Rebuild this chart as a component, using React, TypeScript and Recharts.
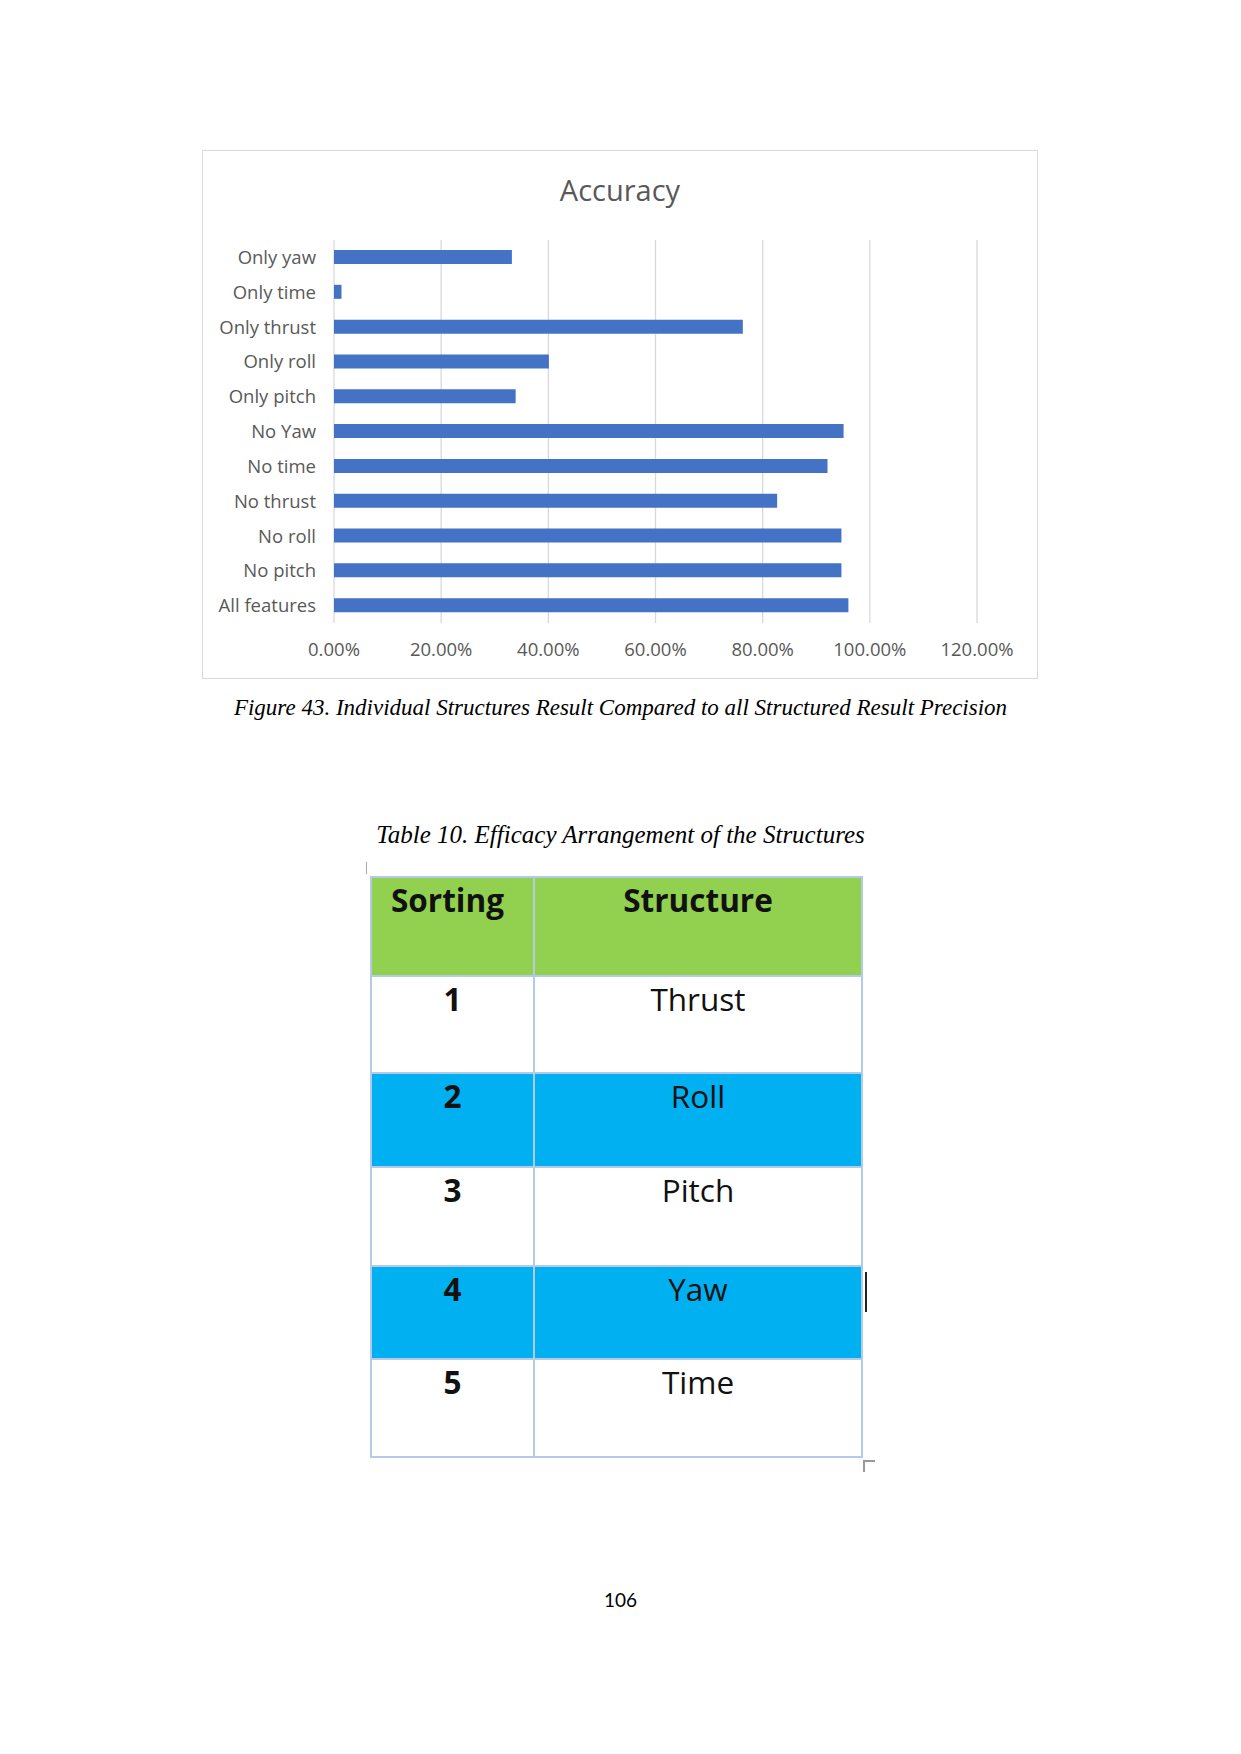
import { BarChart, Bar, XAxis, YAxis, CartesianGrid } from "recharts";

const categories = [
  "Only yaw",
  "Only time",
  "Only thrust",
  "Only roll",
  "Only pitch",
  "No Yaw",
  "No time",
  "No thrust",
  "No roll",
  "No pitch",
  "All features",
];

const accuracy = [33.2, 1.4, 76.3, 40.1, 33.9, 95.1, 92.1, 82.7, 94.7, 94.7, 96.0];

const xTicks = [0, 20, 40, 60, 80, 100, 120];

const tableHeaders = ["Sorting", "Structure"];
const sortingRanks = ["1", "2", "3", "4", "5"];
const structures = ["Thrust", "Roll", "Pitch", "Yaw", "Time"];

const data = categories.map((name, i) => ({ name, value: accuracy[i] }));

const rowHeights = [99, 97, 94, 99, 93, 98];
const borderColor = "#b3cbe9";
const labelGray = "#595959";

export default function App() {
  const cell = {
    border: `2px solid ${borderColor}`,
    verticalAlign: "top" as const,
    textAlign: "center" as const,
    padding: "2px 0 0 0",
    fontSize: 31.5,
    lineHeight: "40px",
  };

  return (
    <div
      style={{
        position: "absolute",
        left: 0,
        top: 0,
        width: 1241,
        height: 1754,
        background: "#fff",
        overflow: "hidden",
      }}
    >
      {/* chart frame */}
      <div
        style={{
          position: "absolute",
          left: 202,
          top: 150,
          width: 836,
          height: 529,
          border: "1.5px solid #d9d9d9",
          boxSizing: "border-box",
        }}
      />
      <div
        style={{
          position: "absolute",
          left: 203,
          top: 170,
          width: 834,
          textAlign: "center",
          fontFamily: "'Open Sans', sans-serif",
          fontSize: 29,
          color: labelGray,
          lineHeight: "40px",
        }}
      >
        Accuracy
      </div>
      <div style={{ position: "absolute", left: 203, top: 151 }}>
        <BarChart
          width={834}
          height={527}
          layout="vertical"
          data={data}
          margin={{ top: 89, right: 60, bottom: 25, left: 0 }}
        >
          <CartesianGrid horizontal={false} stroke="#d9d9d9" strokeWidth={1.3} />
          <XAxis
            type="number"
            domain={[0, 120]}
            ticks={xTicks}
            interval={0}
            axisLine={false}
            tickLine={false}
            height={30}
            tickMargin={14}
            tickFormatter={(v: number) => v.toFixed(2) + "%"}
            tick={{ fill: labelGray, fontSize: 18.5, fontFamily: "'Open Sans', sans-serif" }}
          />
          <YAxis
            type="category"
            dataKey="name"
            width={131}
            interval={0}
            axisLine={false}
            tickLine={false}
            tickMargin={12}
            tick={{ fill: labelGray, fontSize: 18.5, fontFamily: "'Open Sans', sans-serif" }}
          />
          <Bar dataKey="value" fill="#4472c4" barSize={14} isAnimationActive={false} />
        </BarChart>
      </div>

      {/* figure caption */}
      <div
        style={{
          position: "absolute",
          left: 0,
          top: 694,
          width: 1241,
          textAlign: "center",
          fontFamily: "'Liberation Serif', serif",
          fontStyle: "italic",
          fontSize: 23,
          lineHeight: "28px",
          color: "#000",
        }}
      >
        Figure 43. Individual Structures Result Compared to all Structured Result Precision
      </div>

      <div
        style={{
          position: "absolute",
          left: 0,
          top: 820,
          width: 1241,
          textAlign: "center",
          fontFamily: "'Liberation Serif', serif",
          fontStyle: "italic",
          fontSize: 25,
          lineHeight: "30px",
          color: "#000",
        }}
      >
        Table 10. Efficacy Arrangement of the Structures
      </div>

      {/* editing marks */}
      <div style={{ position: "absolute", left: 366, top: 862, width: 1, height: 12, background: "#aaa" }} />
      <div style={{ position: "absolute", left: 865, top: 1272, width: 2, height: 40, background: "#222" }} />
      <div style={{ position: "absolute", left: 863, top: 1460, width: 12, height: 1.5, background: "#999" }} />
      <div style={{ position: "absolute", left: 863, top: 1460, width: 1.5, height: 12, background: "#999" }} />

      {/* table */}
      <table
        style={{
          position: "absolute",
          left: 370,
          top: 876,
          borderCollapse: "collapse",
          tableLayout: "fixed",
          fontFamily: "'Open Sans', sans-serif",
          color: "#111",
        }}
      >
        <colgroup>
          <col style={{ width: 163 }} />
          <col style={{ width: 328 }} />
        </colgroup>
        <tbody>
          <tr style={{ height: rowHeights[0], background: "#92d050" }}>
            {tableHeaders.map((h, i) => (
              <td
                key={h}
                style={{ ...cell, fontWeight: 700, paddingRight: i === 0 ? 10 : 0 }}
              >
                {h}
              </td>
            ))}
          </tr>
          {sortingRanks.map((rank, i) => (
            <tr
              key={rank}
              style={{
                height: rowHeights[i + 1],
                background: i % 2 === 1 ? "#00b0f0" : "#fff",
              }}
            >
              <td style={{ ...cell, fontWeight: 700 }}>{rank}</td>
              <td style={{ ...cell, fontWeight: 400 }}>{structures[i]}</td>
            </tr>
          ))}
        </tbody>
      </table>

      {/* page number */}
      <div
        style={{
          position: "absolute",
          left: 0,
          top: 1588,
          width: 1241,
          textAlign: "center",
          fontFamily: "Lato, sans-serif",
          fontSize: 19,
          lineHeight: "24px",
          color: "#000",
        }}
      >
        106
      </div>
    </div>
  );
}
